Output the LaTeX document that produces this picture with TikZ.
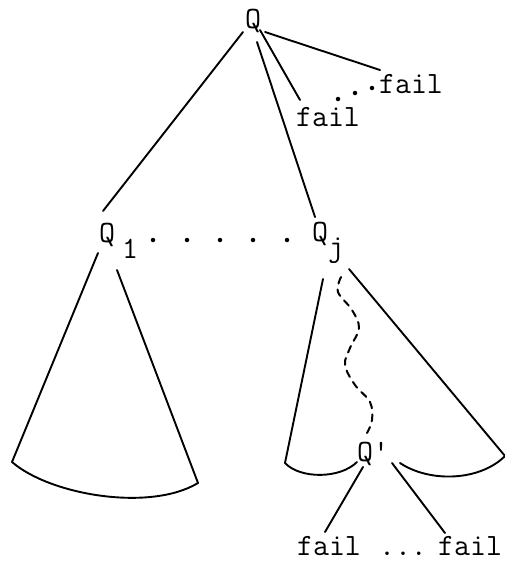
\documentclass[tikz,border=0pt]{standalone}
\usepackage{fontspec}
\begin{document}
\begin{tikzpicture}[x=1pt,y=-1pt,
  line width=1.9pt, line cap=round,
  lbl/.style={font=\fontsize{31}{31}\selectfont\ttfamily, inner sep=0pt, anchor=base},
  dotmark/.style={circle, fill, inner sep=0pt, minimum size=4.5pt},
  wavy/.style={dash pattern=on 7pt off 6pt, line width=2pt}]
\useasboundingbox (0,0) rectangle (504,565);

% ---- labels ----
\node[lbl] (Q) at (253,28) {Q};
\node[lbl] (failA) at (328,126) {fail};
\node[lbl] (failB) at (411,93) {fail};
\node[lbl] (Q1) at (107,242) {Q};
\node[lbl] (Q1sub) at (130,258) {1};
\node[lbl] (Qj) at (320,241) {Q};
\node[lbl] (Qjsub) at (336,256) {j};
\node[lbl] (Qp) at (373,461) {Q'};
\node[lbl] (failC) at (329,555) {fail};
\node[lbl, anchor=base east] (failD) at (503,555) {fail};
\node[lbl] (dotsC) at (403,555) {...};

% dots between the two failure leaves at the top
\node[dotmark] (d1) at (338,99) {};
\node[dotmark] (d2) at (355,93) {};
\node[dotmark] (d3) at (372,88) {};

% dots between Q1 and Qj
\foreach \x [count=\i] in {153,187,220,253,287}
  \node[dotmark] (m\i) at (\x,240) {};

% ---- connector end points ----
\coordinate (Qa) at (243,32);
\coordinate (Qb) at (257,42);
\coordinate (Qc) at (260,30);
\coordinate (Qd) at (265,32);
\coordinate (Q1top) at (103,211);
\coordinate (Qjtop) at (315,217);
\coordinate (failAtop) at (300,100);
\coordinate (failBtop) at (380,70);

% left subtree cone
\coordinate (L1) at (98,253);
\coordinate (L2) at (117,270);
\coordinate (Lbl) at (12,462);
\coordinate (Lbr) at (198,483);

% right subtree cone
\coordinate (R1) at (323,279);
\coordinate (R2) at (349,269);
\coordinate (Rbl) at (285,463);
\coordinate (Rml) at (357,462);
\coordinate (Rmr) at (400,463);
\coordinate (Rbr) at (505,456);

% edges below Q'
\coordinate (P1) at (363,467);
\coordinate (P2) at (392,463);
\coordinate (failCtop) at (325,532);
\coordinate (failDtop) at (445,533);

% ---- edges from the root ----
\draw (Qa) -- (Q1top);
\draw (Qb) -- (Qjtop);
\draw (Qc) -- (failAtop);
\draw (Qd) -- (failBtop);

% ---- left cone ----
\draw (L1) -- (Lbl);
\draw (L2) -- (Lbr);
\draw (Lbl) .. controls (50,495) and (150,512) .. (Lbr);

% ---- right cone ----
\draw (R1) -- (Rbl);
\draw (R2) -- (Rbr);
\draw (Rbl) .. controls (300,479) and (340,479) .. (Rml);
\draw (Rmr) .. controls (430,483) and (480,481) .. (Rbr);

% path from Qj down to Q'
\draw[wavy] plot[smooth, tension=0.6] coordinates
  {(341,277) (338,292) (352,310) (359,328) (350,348) (345,365)
   (355,385) (370,402) (372,420) (367,433)};

% ---- edges from Q' ----
\draw (P1) -- (failCtop);
\draw (P2) -- (failDtop);
\end{tikzpicture}
\end{document}
